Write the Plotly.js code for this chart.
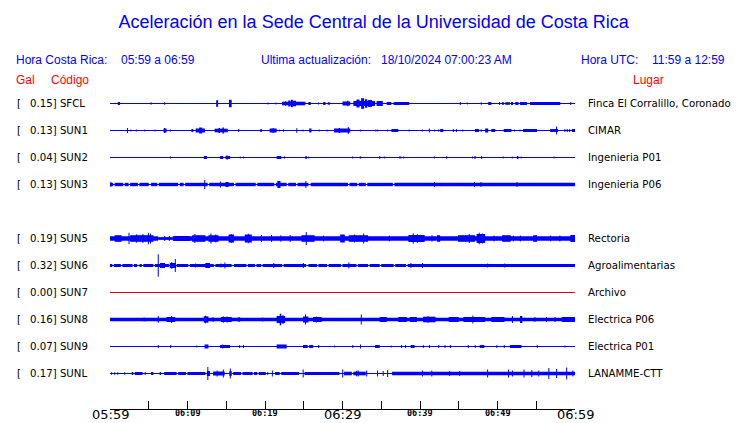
<!DOCTYPE html>
<html>
<head>
<meta charset="utf-8">
<script src="https://cdn.plot.ly/plotly-3.0.1.min.js"></script>
<style>html,body{margin:0;padding:0;background:#fff;}#chart{width:740px;height:423px;}</style>
</head>
<body>
<div id="chart"></div>
<script>
// ---------- data ----------
const stationCodes = ['SFCL','SUN1','SUN2','SUN3','SUN5','SUN6','SUN7','SUN8','SUN9','SUNL'];
const peakGal = ['0.15','0.13','0.04','0.13','0.19','0.32','0.00','0.16','0.07','0.17'];
const places = ['Finca El Corralillo, Coronado','CIMAR','Ingenieria P01','Ingenieria P06','Rectoria','Agroalimentarias','Archivo','Electrica P06','Electrica P01','LANAMME-CTT'];
const rowIndex = [0,1,2,3,5,6,7,8,9,10];
const traceColors = ['#0000ff','#0000ff','#0000ff','#0000ff','#0000ff','#0000ff','#ee0000','#0000ff','#0000ff','#0000ff'];

// x axis (minutes after 05:59)
const majorTickMinutes = [0,30,60];
const majorTickLabels = ['05:59','06:29','06:59'];
const minorTickMinutes = [10,20,40,50];
const minorTickLabels = ['06:09','06:19','06:39','06:49'];

// amplitude envelopes: [start minute, end minute, half-amplitude (px)]
const SFCL_env = [[1.0,1.3,1.5],[5.3,5.3,1.2],[7.0,7.1,1.2],[13.7,13.95,3.3],[15.35,15.7,3.7],[20.4,20.4,1],[21.4,21.4,1],[22.2,25.2,1.8],[22.6,22.7,2.3],[23.0,23.3,3],[23.35,23.6,3.7],[23.6,24.0,2.8],[25.6,25.9,1.5],[26.9,26.9,1],[27.5,27.8,1.5],[28.1,28.4,1.2],[30.0,31.0,2],[30.6,30.75,2.8],[31.4,34.2,2.5],[31.8,32.2,4],[32.4,32.8,5.3],[32.9,33.2,4.2],[33.3,33.8,3.5],[34.4,35.2,2.5],[35.7,36.3,1.5],[36.6,38.6,1.5],[45.2,45.2,1.5],[46.1,46.1,1],[47.9,47.9,1.2],[48.8,49.2,1.5],[50.2,50.3,1.5],[50.6,50.8,1.5],[51.0,51.6,1.3],[51.75,52.0,1.5],[52.3,52.7,1.5],[52.9,53.8,1.5],[54.2,58.1,1.5],[59.4,59.5,1.5]];
const SUN1_env = [[2.2,2.3,2.5],[2.7,2.7,1],[3.4,3.4,1],[4.5,4.5,1],[5.8,5.8,1],[6.9,7.3,2],[7.0,7.1,2.5],[7.8,7.8,1],[10.5,10.75,1.5],[11.05,12.25,2],[11.5,11.9,3],[13.5,15.2,1.8],[14.0,14.2,2.5],[14.5,14.7,3],[16.6,16.6,1.5],[19.4,19.6,1.5],[20.6,21.5,2],[21.0,21.1,2.5],[21.9,21.9,1],[22.4,22.4,1.2],[24.1,24.1,2.2],[24.9,24.9,1],[25.7,26.0,2],[27.0,27.0,1],[28.0,28.0,1],[28.9,31.0,2],[29.5,29.7,2.5],[30.7,30.8,3.5],[32.3,32.3,1],[34.3,34.3,1],[34.55,34.55,1],[35.8,35.8,1],[36.3,37.2,1.5],[38.6,38.6,1],[40.3,40.3,1],[41.2,41.2,2],[41.9,41.9,1],[42.4,42.4,1],[42.6,43.0,1.5],[44.3,44.3,1.5],[44.7,44.7,1.5],[45.5,45.5,1],[47.1,47.6,1.5],[47.9,47.9,1.2],[48.4,48.8,2],[49.2,49.7,1.5],[50.8,51.8,1.5],[52.2,52.2,1],[52.9,52.9,1],[53.3,55.1,1.5],[56.8,57.8,1.5],[57.6,57.65,4],[58.7,58.7,1.5],[59.0,59.0,1.5],[59.3,59.3,1.5],[59.6,60,1.5]];
const SUN2_env = [[7.8,7.8,1],[12.1,12.5,1.5],[14.2,14.6,1.5],[14.9,15.5,1.5],[15.05,15.15,2.2],[16.8,16.8,1],[17.2,17.2,1],[21.5,22.1,1.5],[22.5,22.5,1.2],[25.2,25.4,1.5],[25.65,25.65,1],[31.3,31.3,1],[32.3,32.3,1.2],[34.7,34.9,1.2],[35.4,35.4,1],[37.3,37.6,1],[37.9,37.9,1],[41.85,41.85,1],[43.4,43.5,1.2],[46.75,46.8,1],[47.0,47.2,1.2],[47.9,48.0,1.5],[50.75,50.75,1],[51.9,51.9,1],[52.5,52.7,1.5],[53.0,53.1,1],[57.3,57.3,1]];
const SUN3_env = [[0.0,0.4,1.7],[0.6,1.7,1.7],[1.9,2.4,1.7],[2.6,3.6,1.7],[3.8,5.0,1.7],[5.3,6.1,1.7],[6.3,8.8,1.7],[9.0,9.5,1.7],[9.7,12.6,1.7],[12.8,16.0,1.7],[16.2,18.8,1.7],[19.0,21.2,1.7],[21.4,22.8,1.7],[23.0,24.0,1.7],[24.2,25.6,1.7],[25.9,30.7,1.7],[30.9,31.9,1.7],[32.1,33.0,1.7],[33.2,36.5,1.7],[36.7,60,1.7],[0.1,0.1,2.5],[12.2,12.25,4.5],[14.2,14.3,3],[14.9,15.3,2.5],[21.6,22.0,3.5],[25.25,25.3,3.5],[41.85,41.9,2.5],[47.0,47.05,2.5],[47.85,47.9,2.5],[52.5,52.55,2.5]];
const SUN5_env = [[0,6.2,2.3],[6.2,8.1,1.4],[8.1,60,2.3],[0.6,1.5,3.3],[2.4,2.5,5.8],[2.6,5.6,3.3],[3.4,3.5,4.3],[4.2,4.3,4.5],[4.9,5.0,5.8],[5.2,5.25,5],[7.0,7.1,2.5],[7.6,7.7,2.5],[8.2,10.3,2.5],[10.6,12.3,3.3],[10.9,11.0,4.5],[12.7,14.0,3.3],[13.0,13.05,5],[13.6,13.7,4],[15.3,16.0,4],[15.6,15.7,4.5],[17.4,18.3,4],[17.8,17.9,4.8],[19.5,19.6,3.5],[20.8,20.9,3.5],[22.0,22.1,3.3],[23.2,23.3,3.5],[24.7,26.4,3.3],[25.3,25.35,6.5],[27.5,27.6,3],[29.7,30.3,4],[30.8,33.3,3.3],[31.5,31.6,4],[32.7,32.75,5],[36.0,36.1,3],[38.5,40.6,3.5],[39.1,39.15,5.2],[39.6,39.7,4.2],[41.5,41.6,3.3],[42.2,42.6,3.3],[44.9,47.1,3.3],[46.3,46.4,4.5],[47.3,48.4,4.5],[47.6,47.7,5.7],[48.0,48.1,5],[49.5,49.6,3],[50.6,51.7,3.3],[52.0,52.1,3],[52.9,53.0,3],[54.6,55.1,3.3],[56.8,56.9,3],[58.0,58.1,3],[59.4,60,3.5]];
const SUN6_env = [[0,0.3,1.5],[0.5,1.4,1.5],[1.6,2.9,1.5],[3.1,3.5,1.5],[3.8,4.1,1.5],[4.3,5.6,1.5],[5.8,7.6,1.5],[8.6,10.1,1.5],[10.3,13.4,1.5],[13.6,15.7,1.5],[16.0,17.6,1.5],[17.8,18.7,1.5],[18.9,19.5,1.5],[19.7,22.2,1.5],[22.4,25.3,1.5],[25.6,26.7,1.5],[26.9,28.0,1.5],[28.2,29.8,1.5],[30.0,31.8,1.5],[32.0,33.3,1.5],[33.5,34.8,1.5],[35.0,36.6,1.5],[36.8,38.2,1.5],[38.4,60,1.5],[6.2,6.25,11.3],[6.45,7.1,2.5],[7.7,8.5,2.5],[7.95,8.0,3.5],[8.4,8.45,6.5],[11.0,11.1,2],[12.3,12.9,2.5],[14.3,14.35,2],[14.8,14.85,3],[21.1,21.15,2.5],[24.9,25.0,2.5],[30.8,30.85,3],[38.8,38.85,2.5],[40.3,40.35,2.5],[48.7,48.75,2],[50.9,50.95,2]];
const SUN7_env = [];
const SUN8_env = [[0,60,1.8],[4.4,4.4,2],[6.2,6.25,3.5],[7.3,8.4,2.5],[7.9,8.0,3.5],[12.1,12.7,3.2],[12.3,12.35,3.8],[13.3,13.3,2.5],[14.3,15.7,2.5],[14.6,14.65,3.2],[15.1,15.15,3],[16.5,16.8,2.2],[19.7,19.7,2],[21.5,22.6,3.5],[21.9,22.1,5.8],[22.3,22.35,4.5],[24.9,25.6,3],[25.2,25.25,5],[26.2,27.3,2.5],[26.6,26.65,3],[32.4,32.45,5],[34.8,35.7,2.5],[37.2,38.3,2.5],[38.7,39.6,2.5],[40.4,42.0,2.8],[41.0,41.1,3.2],[43.7,45.0,2.5],[45.6,48.4,2.5],[46.8,46.85,4],[49.2,50.9,2.5],[51.9,51.95,3.5],[52.9,53.2,3.5],[54.8,54.85,2.5],[56.3,56.35,2.5],[57.4,57.45,2.5],[58.3,60,2.5]];
const SUN9_env = [[6.2,6.25,1.5],[7.8,7.85,1.5],[11.2,11.2,1],[12.2,12.7,2],[14.2,15.5,1.5],[14.5,14.6,2],[16.7,16.75,1.5],[17.2,17.25,1.5],[21.5,22.8,2],[24.9,25.5,1.5],[25.7,26.2,1.5],[26.9,26.95,1.5],[29.0,29.0,1],[31.3,31.35,1.5],[32.3,32.35,2],[34.2,34.8,1.5],[36.3,36.3,1],[37.6,37.65,1.5],[38.1,38.15,1.5],[38.8,39.3,1.5],[40.4,40.45,1.5],[41.2,41.25,1.5],[42.4,42.45,1.5],[43.2,43.25,1.5],[43.9,43.95,1.5],[46.2,46.25,1.5],[47.1,47.15,1.5],[47.7,48.3,1.5],[49.9,49.95,1.5],[50.85,50.9,1.5],[51.6,53.1,1.5],[55.1,55.15,1.5],[58.7,58.7,1]];
const SUNL_env = [[0.2,0.2,1.2],[0.6,0.6,1.2],[1.0,1.0,1.2],[1.9,1.9,1.2],[2.8,3.0,1.5],[3.2,4.2,1.5],[4.5,4.6,1.5],[5.3,5.6,1.5],[6.4,6.6,1.5],[7.0,8.6,1.5],[8.8,9.8,1.5],[10.0,12.3,1.5],[12.5,12.9,2.5],[12.6,12.65,6.5],[13.3,14.8,2],[13.8,13.85,3],[14.6,14.65,4],[15.4,15.7,2.5],[15.5,15.55,5],[15.9,16.9,1.5],[17.1,18.4,1.5],[18.6,19.0,1.5],[19.2,20.1,1.5],[20.3,20.4,1.5],[20.9,21.0,3],[21.3,21.9,1.5],[22.1,24.4,1.5],[24.9,24.95,4],[25.1,29.6,1.5],[30.0,30.05,4],[30.2,31.2,1.8],[31.4,33.0,1.8],[31.8,31.85,2.8],[32.0,32.05,3],[33.1,33.15,3],[34.5,34.55,3],[35.2,35.3,2.5],[35.8,35.85,3.5],[36.4,60,1.8],[40.3,40.35,3],[41.5,41.55,3],[43.8,43.85,2.5],[45.1,45.15,2.5],[48.7,48.75,4],[51.4,51.45,4],[51.9,51.95,3],[53.4,53.45,4],[54.4,54.45,3.5],[55.3,55.35,3],[56.6,56.65,5.5],[57.6,57.65,4.5],[58.9,58.95,6],[59.7,59.75,3]];
const envelopes = [SFCL_env,SUN1_env,SUN2_env,SUN3_env,SUN5_env,SUN6_env,SUN7_env,SUN8_env,SUN9_env,SUNL_env];

// ---------- geometry ----------
const W = 740, H = 423;
const PL = 110, PR = 575, PT = 90, PB = 409;
const ROW_PX = 27;                  // px per row unit
const yTop = 0.5;
const yBottom = yTop - (PB - PT) / ROW_PX;
const px2x = px => (px - PL) / (PR - PL);
const px2y = py => (PB - py) / (PB - PT);

const data = [];
stationCodes.forEach((code, k) => {
  const c = -rowIndex[k];
  const col = traceColors[k];
  data.push({type:'scatter', mode:'lines', x:[0,60], y:[c,c], line:{color:col, width:1}, hoverinfo:'skip', showlegend:false});
  const env = envelopes[k];
  if (env.length) {
    data.push({
      type:'bar',
      x: env.map(e => (e[0]+e[1])/2),
      width: env.map(e => Math.max(e[1]-e[0], 0.13)),
      base: env.map(e => c - e[2]/ROW_PX),
      y: env.map(e => 2*e[2]/ROW_PX),
      marker:{color:col, line:{width:0}},
      hoverinfo:'skip', showlegend:false
    });
  }
});

const blue = '#0000ff', red = '#ff0000';
const hdrFont = {family:'"Liberation Sans", Arial, sans-serif', size:12, color:blue};
const redFont = {family:'"Liberation Sans", Arial, sans-serif', size:12, color:red};
const lblFont = {family:'"DejaVu Sans", sans-serif', size:10.2, color:'#000'};
const ann = [];
function addText(text, px, py, font, xanchor) {
  ann.push({text, x:px2x(px), y:px2y(py), xref:'paper', yref:'paper', showarrow:false,
            xanchor:xanchor||'left', yanchor:'middle', font, borderpad:0});
}
addText('Hora Costa Rica:', 15, 60, hdrFont);
addText('05:59 a 06:59', 120, 60, hdrFont);
addText('Ultima actualización:', 260, 60, hdrFont);
addText('18/10/2024 07:00:23 AM', 380, 60, hdrFont);
addText('Hora UTC:', 580, 60, hdrFont);
addText('11:59 a 12:59', 651, 60, hdrFont);
addText('Gal', 15, 80, redFont);
addText('Código', 50, 80, redFont);
addText('Lugar', 632, 80, redFont);

stationCodes.forEach((code, k) => {
  const c = -rowIndex[k];
  ann.push({text:'[', x:px2x(15), y:c, xref:'paper', yref:'y', showarrow:false, xanchor:'left', yanchor:'middle', font:lblFont});
  ann.push({text:peakGal[k] + '] ' + code, x:px2x(28), y:c, xref:'paper', yref:'y', showarrow:false, xanchor:'left', yanchor:'middle', font:lblFont});
  ann.push({text:places[k], x:px2x(586), y:c, xref:'paper', yref:'y', showarrow:false, xanchor:'left', yanchor:'middle', font:lblFont});
});

majorTickMinutes.forEach((m, i) => {
  ann.push({text:majorTickLabels[i], x:m, y:px2y(414.5), xref:'x', yref:'paper', showarrow:false, xanchor:'center', yanchor:'middle', borderpad:0,
            font:{family:'"DejaVu Sans", sans-serif', size:13, color:'#000'}});
});
minorTickMinutes.forEach((m, i) => {
  ann.push({text:'<b>'+minorTickLabels[i]+'</b>', x:m, y:px2y(413), xref:'x', yref:'paper', showarrow:false, xanchor:'center', yanchor:'middle', borderpad:0,
            font:{family:'"DejaVu Sans Mono", monospace', size:8.5, color:'#000'}});
});

const layout = {
  width:W, height:H,
  margin:{l:PL, r:W-PR, t:PT, b:H-PB, pad:0},
  paper_bgcolor:'#fff', plot_bgcolor:'#fff',
  title:{text:'Aceleración en la Sede Central de la Universidad de Costa Rica',
         font:{family:'"Liberation Sans", Arial, sans-serif', size:18, color:blue},
         x:0.505, xref:'container', xanchor:'center', y:1-22/H, yref:'container', yanchor:'middle'},
  barmode:'overlay',
  showlegend:false,
  xaxis:{range:[0,60], showgrid:false, zeroline:false, showline:true, linecolor:'#000', linewidth:1,
         ticks:'inside', ticklen:8, tickwidth:1, tickcolor:'#000', tick0:0, dtick:5, showticklabels:false, fixedrange:true,
         layer:'above traces'},
  yaxis:{range:[yBottom, yTop], showgrid:false, zeroline:false, showline:false, showticklabels:false, ticks:'', fixedrange:true},
  annotations: ann
};
Plotly.newPlot('chart', data, layout, {staticPlot:true, displayModeBar:false});
</script>
</body>
</html>
